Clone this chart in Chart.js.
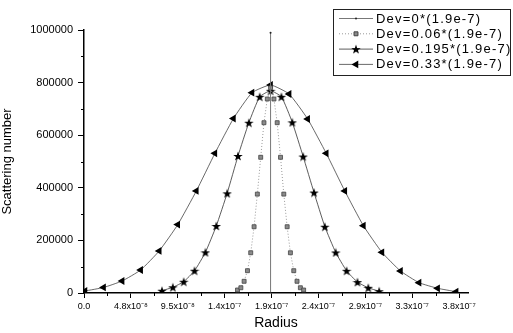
<!DOCTYPE html>
<html>
<head>
<meta charset="utf-8">
<script src="https://cdn.jsdelivr.net/npm/chart.js@4"></script>
<style>
  html, body { margin: 0; padding: 0; background: #fff; }
  #wrap { width: 513px; height: 333px; }
</style>
</head>
<body>
<div id="wrap"><canvas id="scattering"></canvas></div>
<script>
/**
 * Data
 */
// Dev = 0: a single spike at the centre radius
const radiusDev0 = [1.89e-7, 1.89e-7];
const countDev0 = [0, 990000];

// Dev = 0.06
const radiusDev006 = [
  1.555e-7, 1.589e-7, 1.622e-7, 1.656e-7, 1.689e-7, 1.723e-7, 1.756e-7,
  1.79e-7, 1.823e-7, 1.857e-7, 1.89e-7, 1.924e-7, 1.957e-7, 1.991e-7,
  2.024e-7, 2.058e-7, 2.091e-7, 2.125e-7, 2.158e-7, 2.192e-7, 2.225e-7,
];
const countDev006 = [
  11400, 20000, 44500, 84800, 153000, 252000, 376000, 516000, 647500,
  737600, 780000, 737600, 647500, 516000, 376000, 252000, 153000, 84800,
  44500, 20000, 11400,
];

// Dev = 0.195
const radiusDev0195 = [
  0.79e-7, 0.9e-7, 1.01e-7, 1.12e-7, 1.23e-7, 1.34e-7, 1.45e-7, 1.56e-7,
  1.67e-7, 1.78e-7, 1.89e-7, 2.0e-7, 2.11e-7, 2.22e-7, 2.33e-7, 2.44e-7,
  2.55e-7, 2.66e-7, 2.77e-7, 2.88e-7, 2.99e-7,
];
const countDev0195 = [
  8700, 21700, 43000, 84800, 154700, 254800, 379000, 521000, 647500,
  746000, 769000, 746000, 649000, 519000, 382000, 252000, 154000, 84400,
  41500, 19800, 6800,
];

// Dev = 0.33
const radiusDev033 = [
  0.01e-7, 0.198e-7, 0.386e-7, 0.574e-7, 0.762e-7, 0.95e-7, 1.138e-7,
  1.326e-7, 1.514e-7, 1.702e-7, 1.89e-7, 2.078e-7, 2.266e-7, 2.454e-7,
  2.642e-7, 2.83e-7, 3.018e-7, 3.206e-7, 3.394e-7, 3.582e-7, 3.77e-7,
];
const countDev033 = [
  7600, 21000, 45600, 87500, 160000, 260000, 388000, 531000, 663500,
  761600, 791000, 756600, 661600, 531000, 388000, 256000, 154800, 83700,
  39200, 17900, 5000,
];

// Axis ticks
const xTickValues = [0, 4.75e-8, 9.5e-8, 1.425e-7, 1.9e-7, 2.375e-7, 2.85e-7, 3.325e-7, 3.8e-7];
const xTickLabels = [
  "0.0", "4.8x10\u207B\u2078", "9.5x10\u207B\u2078", "1.4x10\u207B\u2077",
  "1.9x10\u207B\u2077", "2.4x10\u207B\u2077", "2.9x10\u207B\u2077",
  "3.3x10\u207B\u2077", "3.8x10\u207B\u2077",
];
const xMinorTicks = [2.375e-8, 7.125e-8, 1.1875e-7, 1.6625e-7, 2.1375e-7, 2.6125e-7, 3.0875e-7, 3.5625e-7];
const yMinorTicks = [100000, 300000, 500000, 700000, 900000];

const seriesLabels = [
  "Dev=0*(1.9e-7)",
  "Dev=0.06*(1.9e-7)",
  "Dev=0.195*(1.9e-7)",
  "Dev=0.33*(1.9e-7)",
];

const toPoints = (xs, ys) => xs.map((x, i) => ({ x, y: ys[i] }));

// Filled five point star used as marker
const starImage = (size, color) => {
  const c = document.createElement("canvas");
  c.width = c.height = size;
  const g = c.getContext("2d");
  g.fillStyle = color;
  g.beginPath();
  for (let i = 0; i < 10; i++) {
    const a = -Math.PI / 2 + (i * Math.PI) / 5;
    const r = i % 2 ? size * 0.2 : size / 2;
    const px = size / 2 + r * Math.cos(a);
    const py = size / 2 + 0.5 + r * Math.sin(a);
    i ? g.lineTo(px, py) : g.moveTo(px, py);
  }
  g.closePath();
  g.fill();
  return c;
};
const star = starImage(10, "#000");

/**
 * Plugins
 */
const minorTicks = {
  id: "minorTicks",
  afterDraw(chart) {
    const { ctx, scales: { x, y } } = chart;
    ctx.save();
    ctx.strokeStyle = "#000";
    ctx.lineWidth = 1;
    yMinorTicks.forEach((v) => {
      const py = Math.round(y.getPixelForValue(v)) + 0.5;
      ctx.beginPath();
      ctx.moveTo(x.left - 3, py);
      ctx.lineTo(x.left, py);
      ctx.stroke();
    });
    xMinorTicks.forEach((v) => {
      const px = Math.round(x.getPixelForValue(v)) + 0.5;
      ctx.beginPath();
      ctx.moveTo(px, y.bottom);
      ctx.lineTo(px, y.bottom + 3);
      ctx.stroke();
    });
    ctx.restore();
  },
};

// Legend in a framed box at the top right, line sample + marker + label
const boxedLegend = {
  id: "boxedLegend",
  afterDraw(chart) {
    const { ctx } = chart;
    const left = 333, top = 9, width = 177, height = 66, rowGap = 15.3;
    ctx.save();
    ctx.fillStyle = "#fff";
    ctx.fillRect(left, top, width, height);
    ctx.strokeStyle = "#222";
    ctx.lineWidth = 1;
    ctx.strokeRect(left + 0.5, top + 0.5, width, height);
    ctx.font = "13px 'Liberation Sans', Arial, sans-serif";
    ctx.textBaseline = "middle";
    chart.data.datasets.forEach((ds, i) => {
      const cy = top + 9.5 + i * rowGap;
      ctx.strokeStyle = ds.borderColor;
      ctx.lineWidth = ds.borderWidth;
      ctx.setLineDash(ds.borderDash || []);
      ctx.beginPath();
      ctx.moveTo(left + 6, cy);
      ctx.lineTo(left + 40, cy);
      ctx.stroke();
      ctx.setLineDash([]);
      ctx.fillStyle = ds.pointBackgroundColor;
      ctx.strokeStyle = ds.pointBorderColor;
      Chart.helpers.drawPoint(
        ctx,
        {
          pointStyle: ds.pointStyle,
          radius: ds.pointRadius,
          rotation: ds.pointRotation || 0,
          borderWidth: ds.pointBorderWidth || 0,
        },
        left + 23,
        cy
      );
      ctx.fillStyle = "#000";
      ctx.letterSpacing = "1.2px";
      ctx.fillText(ds.label, left + 43, cy + 0.5);
      ctx.letterSpacing = "0px";
    });
    ctx.restore();
  },
};

/**
 * Chart
 */
Chart.defaults.font.family = "'Liberation Sans', Arial, sans-serif";
Chart.defaults.color = "#000";

new Chart(document.getElementById("scattering"), {
  type: "scatter",
  data: {
    datasets: [
      {
        label: seriesLabels[0],
        data: toPoints(radiusDev0, countDev0),
        showLine: true,
        borderColor: "#777",
        borderWidth: 1,
        pointStyle: "circle",
        pointRadius: 1,
        pointBackgroundColor: "#222",
        pointBorderColor: "#222",
        pointBorderWidth: 0,
      },
      {
        label: seriesLabels[1],
        data: toPoints(radiusDev006, countDev006),
        showLine: true,
        borderColor: "#999",
        borderWidth: 1,
        borderDash: [1, 2],
        pointStyle: "rect",
        pointRadius: 2.8,
        pointBackgroundColor: "#8a8a8a",
        pointBorderColor: "#444",
        pointBorderWidth: 0.8,
      },
      {
        label: seriesLabels[2],
        data: toPoints(radiusDev0195, countDev0195),
        showLine: true,
        borderColor: "#333",
        borderWidth: 0.8,
        tension: 0.15,
        pointStyle: star,
        pointRadius: 5,
        pointBackgroundColor: "#000",
        pointBorderColor: "#000",
      },
      {
        label: seriesLabels[3],
        data: toPoints(radiusDev033, countDev033),
        showLine: true,
        borderColor: "#444",
        borderWidth: 0.8,
        tension: 0.15,
        pointStyle: "triangle",
        pointRotation: -90,
        pointRadius: 4.5,
        pointBackgroundColor: "#000",
        pointBorderColor: "#000",
        pointBorderWidth: 0,
      },
    ],
  },
  options: {
    responsive: true,
    maintainAspectRatio: false,
    animation: false,
    layout: { padding: { top: 30, right: 45, left: 0, bottom: 0 } },
    plugins: {
      legend: { display: false },
      tooltip: { enabled: false },
    },
    scales: {
      x: {
        type: "linear",
        min: 0,
        max: 3.89e-7,
        afterBuildTicks: (scale) => {
          scale.ticks = xTickValues.map((value) => ({ value }));
        },
        afterFit: (scale) => {
          scale.height = 40;
          scale.paddingLeft = 0;
          scale.paddingRight = 0;
        },
        ticks: {
          autoSkip: false,
          maxRotation: 0,
          padding: 3,
          font: { size: 9 },
          callback: (value, index) => xTickLabels[index],
        },
        grid: { drawOnChartArea: false, drawTicks: true, tickLength: 5, color: "#000" },
        border: { display: true, color: "#000", width: 1.5 },
        title: {
          display: true,
          text: "Radius",
          font: { size: 14 },
          padding: { top: 0, bottom: 1 },
        },
      },
      y: {
        min: 0,
        max: 1000000,
        afterFit: (scale) => {
          scale.width = 84;
          scale.paddingTop = 0;
          scale.paddingBottom = 0;
        },
        ticks: {
          stepSize: 200000,
          padding: 5,
          font: { size: 11 },
          callback: (value) => String(value),
        },
        grid: { drawOnChartArea: false, drawTicks: true, tickLength: 6, color: "#000" },
        border: { display: true, color: "#000", width: 1.5 },
        title: {
          display: true,
          text: "Scattering number",
          font: { size: 13 },
          padding: { top: 0, bottom: 4 },
        },
      },
    },
  },
  plugins: [minorTicks, boxedLegend],
});
</script>
</body>
</html>
